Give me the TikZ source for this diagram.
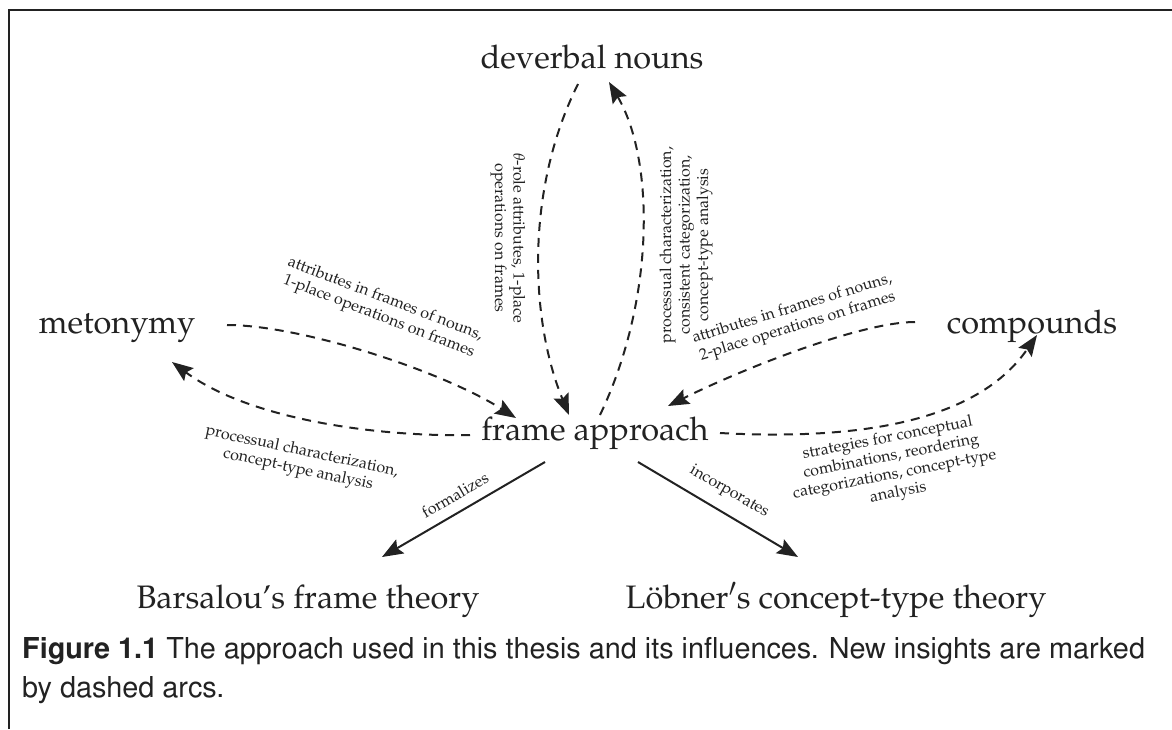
\documentclass[tikz,border=0pt]{standalone}
\usepackage[T1]{fontenc}
\usepackage{mathpazo}
\usetikzlibrary{arrows.meta}
\definecolor{ink}{HTML}{222222}
\begin{document}
\begin{tikzpicture}[x=1pt,y=-1pt,
  concept/.style={inner sep=0pt, anchor=base, text=ink, font=\fontsize{32.5}{40}\selectfont},
  arclabel/.style={inner sep=0pt, align=center, text=ink, font=\fontsize{16}{18.5}\selectfont},
  insight/.style={draw=ink, line width=2pt, dash pattern=on 9pt off 7pt,
    -{Stealth[length=21pt,width=16pt,inset=3.5pt]}},
  influence/.style={draw=ink, line width=2pt, -{Stealth[length=21pt,width=16pt,inset=3.5pt]}},
  pageedge/.style={draw=ink, line width=2pt},
  capline/.style={inner sep=0pt, anchor=base west, text=ink, font=\fontfamily{phv}\fontsize{28.8}{38}\selectfont}]
\useasboundingbox (0,0) rectangle (1172,729);

% page edge
\draw[pageedge] (9,729) -- (9,10) -- (1172,10);

% concepts
\node[concept] (dev)  at (592,68)  {deverbal nouns};
\node[concept] (met)  at (117,333) {metonymy};
\node[concept] (comp) at (1032,333){compounds};
\node[concept] (fa)   at (595,440) {frame approach};
\node[concept] (bars) at (308,608) {Barsalou's frame theory};
\node[concept] (lob)  at (836,608) {L\"obner$'$s concept-type theory};

% new insights (dashed arcs)
\draw[insight] ([shift={(-14,16)}]dev.base) .. controls (525,190) and (530,320) .. ([shift={(-26,-25)}]fa.base);
\draw[insight] ([shift={(5,-25)}]fa.base) .. controls (655,300) and (655,160) .. ([shift={(17,14)}]dev.base);
\draw[insight] ([shift={(110,-8)}]met.base) .. controls (300,325) and (440,370) .. ([shift={(-79,-22)}]fa.base);
\draw[insight] ([shift={(-125,-5)}]fa.base) .. controls (380,437) and (250,420) .. ([shift={(55,29)}]met.base);
\draw[insight] ([shift={(-117,-11)}]comp.base) .. controls (860,322) and (740,370) .. ([shift={(73,-34)}]fa.base);
\draw[insight] ([shift={(125,-7)}]fa.base) .. controls (850,440) and (975,425) .. ([shift={(5,2)}]comp.base);

% influences
\draw[influence] ([shift={(-50,22)}]fa.base) -- ([shift={(74,-51)}]bars.base);
\draw[influence] ([shift={(43,22)}]fa.base) -- ([shift={(-38,-51)}]lob.base);

% arc labels
\node[arclabel, rotate=-90] (lt) at (508,238) {$\theta$-role attributes, 1-place\\operations on frames};
\node[arclabel, rotate=90]  (lp) at (686,245) {processual characterization,\\consistent categorization,\\concept-type analysis};
\node[arclabel, rotate=-21] (lm) at (382,308) {attributes in frames of nouns,\\1-place operations on frames};
\node[arclabel, rotate=-12] (lq) at (300,461) {processual characterization,\\concept-type analysis};
\node[arclabel, rotate=17]  (lc) at (795,318) {attributes in frames of nouns,\\2-place operations on frames};
\node[arclabel, rotate=11]  (ls) at (893,466) {strategies for conceptual\\combinations, reordering\\categorizations, concept-type\\analysis};
\node[arclabel, rotate=30]  (lf) at (455,495) {formalizes};
\node[arclabel, rotate=-30] (li) at (729,492) {incorporates};

% caption
\node[capline] (cap1) at (22,658) {\textbf{Figure 1.1} The approach used in this thesis and its influences. New insights are marked};
\node[capline] (cap2) at (22,697) {by dashed arcs.};
\end{tikzpicture}
\end{document}
